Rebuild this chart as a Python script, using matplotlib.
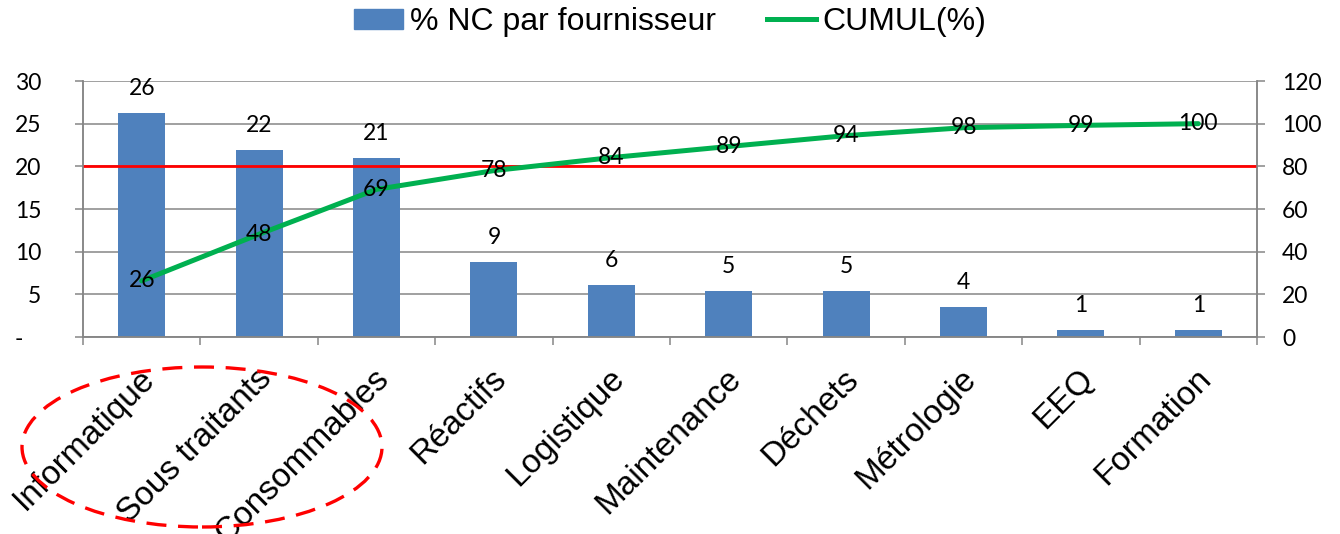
import matplotlib
matplotlib.use("Agg")
import matplotlib.pyplot as plt
from matplotlib.patches import Ellipse, Patch
from matplotlib.lines import Line2D
from matplotlib.transforms import ScaledTranslation
import numpy as np

categories = ["Informatique", "Sous traitants", "Consommables", "Réactifs", "Logistique",
              "Maintenance", "Déchets", "Métrologie", "EEQ", "Formation"]
pct_nc = [26.3, 21.9, 21.0, 8.8, 6.1, 5.4, 5.4, 3.5, 0.8, 0.8]
cumul = [26.3, 48.2, 69.2, 78.0, 84.1, 89.3, 94.4, 98.1, 99.2, 100.0]
threshold = 80
left_ticks = [0, 5, 10, 15, 20, 25, 30]
left_tick_labels = ["-   ", "5", "10", "15", "20", "25", "30"]
right_ticks = [0, 20, 40, 60, 80, 100, 120]

num_font = "Lato"
txt_font = "Liberation Sans"
GRAY = "#868686"
BLUE = "#4F81BD"
GREEN = "#00B050"

fig = plt.figure(figsize=(13.4, 5.34), dpi=100)
ax = fig.add_axes([83/1340, 1-337/534, (1257-83)/1340, (337-81)/534])
ax2 = ax.twinx()

x = np.arange(len(categories))
ax.bar(x, pct_nc, width=0.4, color=BLUE, zorder=2)
ax.set_xlim(-0.5, len(categories)-0.5)
ax.set_ylim(0, 30)
ax.set_yticks(left_ticks)
ax.set_yticklabels(left_tick_labels, fontfamily=num_font, fontsize=16.5)
ax.grid(axis="y", color=GRAY, linewidth=1.1, zorder=0)
ax.set_axisbelow(True)
ax.tick_params(axis="y", length=6, width=1.1, color=GRAY, pad=24)

# x ticks at category boundaries
ax.set_xticks(np.arange(-0.5, len(categories), 1.0))
ax.set_xticklabels([])
ax.tick_params(axis="x", length=6, width=1.1, color=GRAY, direction="out")
ax.spines["top"].set_visible(False)
ax2.spines["top"].set_visible(False)
for a in (ax, ax2):
    for s in ["left", "right", "bottom"]:
        a.spines[s].set_color(GRAY)
        a.spines[s].set_linewidth(1.1)

# category labels
for i, c in enumerate(categories):
    tr = ax.get_xaxis_transform() + ScaledTranslation(8/100, -37/100, fig.dpi_scale_trans)
    ax.text(i, 0, c, transform=tr, rotation=45, rotation_mode="anchor",
            ha="right", va="center", fontsize=24, fontfamily=txt_font, color="black")

# bar labels
for i, v in enumerate(pct_nc):
    ax.annotate(f"{round(v):d}", (i, v), xytext=(0, 10), textcoords="offset points",
                ha="center", va="bottom", fontsize=16.5, fontfamily=num_font, zorder=5)

# right axis
ax2.set_ylim(0, 120)
ax2.set_yticks(right_ticks)
ax2.set_yticklabels([str(t) for t in right_ticks], fontfamily=num_font, fontsize=16.5)
ax2.tick_params(axis="y", length=6, width=1.1, color=GRAY, pad=12)
ax2.axhline(threshold, color="#FF0000", linewidth=2.0, zorder=2)
ax2.plot(x, cumul, color=GREEN, linewidth=3.6, zorder=3, solid_capstyle="round")
for i, v in enumerate(cumul):
    ax2.text(i, v, f"{round(v):d}", ha="center", va="center", fontsize=16.5,
             fontfamily=num_font, zorder=5)

# legend
handles = [Patch(facecolor=BLUE, edgecolor=BLUE),
           Line2D([0], [0], color=GREEN, linewidth=3.6)]
fig.legend(handles, ["% NC par fournisseur", "CUMUL(%)"], loc="center",
           bbox_to_anchor=(0.5, 1-22/534), ncol=2, frameon=False,
           prop={"family": txt_font, "size": 23}, handlelength=1.55,
           handleheight=0.6, handletextpad=0.2, columnspacing=1.6)

# dashed ellipse
ell = Ellipse((202/1340, 87/534), 360/1340, 160/534, transform=fig.transFigure,
              fill=False, edgecolor="#FF0000", linewidth=2.4,
              linestyle=(0, (6, 3.5)))
fig.patches.append(ell)

fig.savefig("out.png", dpi=100)
